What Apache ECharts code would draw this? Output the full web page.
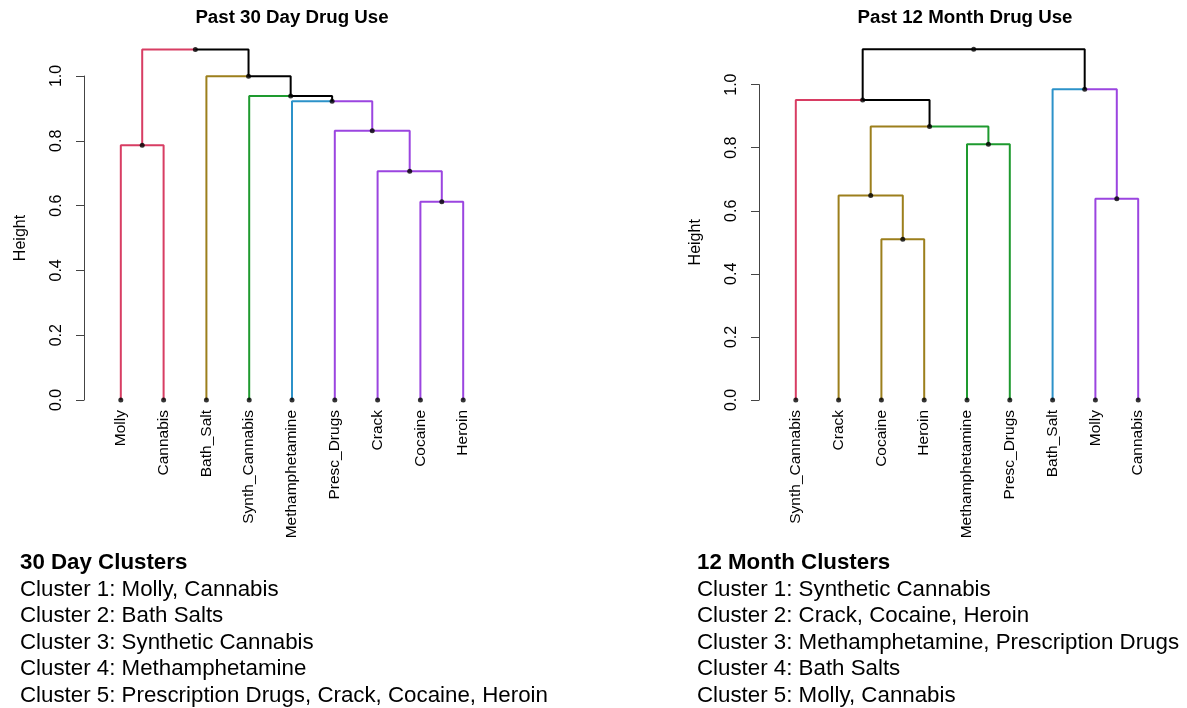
<!DOCTYPE html>
<html>
<head>
<meta charset="utf-8">
<script src="https://cdn.jsdelivr.net/npm/echarts@6/dist/echarts.min.js"></script>
<style>
  body { margin: 0; background: #fff; }
  #chart { width: 1187px; height: 708px; }
</style>
</head>
<body>
<div id="chart"></div>
<script>
// leaves in plotted order, cluster of each leaf, merges (negative = leaf, positive = earlier merge) and heights
let leaves30 = ['Molly','Cannabis','Bath_Salt','Synth_Cannabis','Methamphetamine','Presc_Drugs','Crack','Cocaine','Heroin'];
let clusters30 = [1,1,2,3,4,5,5,5,5];
let merges30 = [[-8,-9],[-7,1],[-1,-2],[-6,2],[-5,4],[-4,5],[-3,6],[3,7]];
let heights30 = [0.612,0.706,0.786,0.831,0.922,0.938,0.999,1.082];

let leaves12 = ['Synth_Cannabis','Crack','Cocaine','Heroin','Methamphetamine','Presc_Drugs','Bath_Salt','Molly','Cannabis'];
let clusters12 = [1,2,2,2,3,3,4,5,5];
let merges12 = [[-3,-4],[-2,1],[-8,-9],[-5,-6],[2,4],[-1,5],[-7,3],[6,7]];
let heights12 = [0.510,0.648,0.638,0.811,0.867,0.951,0.985,1.112];

let yTicks = [0, 0.2, 0.4, 0.6, 0.8, 1.0];

let titles = ['Past 30 Day Drug Use', 'Past 12 Month Drug Use'];
let notes30 = ['30 Day Clusters', 'Cluster 1: Molly, Cannabis', 'Cluster 2: Bath Salts',
  'Cluster 3: Synthetic Cannabis', 'Cluster 4: Methamphetamine',
  'Cluster 5: Prescription Drugs, Crack, Cocaine, Heroin'];
let notes12 = ['12 Month Clusters', 'Cluster 1: Synthetic Cannabis', 'Cluster 2: Crack, Cocaine, Heroin',
  'Cluster 3: Methamphetamine, Prescription Drugs', 'Cluster 4: Bath Salts', 'Cluster 5: Molly, Cannabis'];

let clusterColors = ['#D83D63', '#9C7F1C', '#1E9A2F', '#2C92C9', '#9B45E0'];
let FONT = '"Liberation Sans", Arial, sans-serif';

function treeSeries(leaves, clusters, merges, heights, gi) {
    let nodes = [];
    function node(ref) {
        if (ref < 0) return { x: -ref, h: 0, members: [-ref] };
        return nodes[ref - 1];
    }
    let series = [];
    let dots = leaves.map((l, i) => [i + 1, 0]);
    merges.forEach((m, k) => {
        let a = node(m[0]), b = node(m[1]);
        let p = { x: (a.x + b.x) / 2, h: heights[k], members: a.members.concat(b.members) };
        nodes.push(p);
        dots.push([p.x, p.h]);
        [a, b].forEach(c => {
            let cl = c.members.map(i => clusters[i - 1]);
            let same = cl.every(v => v === cl[0]);
            series.push({
                type: 'line',
                xAxisIndex: gi, yAxisIndex: gi,
                data: [[c.x, c.h], [c.x, p.h], [p.x, p.h]],
                symbol: 'none',
                clip: false,
                silent: true,
                lineStyle: { color: same ? clusterColors[cl[0] - 1] : '#000', width: 2 },
                z: 2
            });
        });
    });
    series.push({
        type: 'scatter',
        xAxisIndex: gi, yAxisIndex: gi,
        data: dots,
        symbolSize: 5,
        clip: false,
        itemStyle: { color: '#000' },
        z: 3
    });
    return series;
}

function xAxisFor(leaves, gi) {
    return {
        type: 'value', gridIndex: gi, min: 0.14, max: 9.86,
        axisLine: { show: false }, axisTick: { show: false }, splitLine: { show: false },
        axisLabel: {
            customValues: leaves.map((l, i) => i + 1),
            formatter: v => leaves[Math.round(v) - 1],
            rotate: 90, margin: 10, fontSize: 15.5, color: '#000', fontFamily: FONT
        }
    };
}

function yAxisFor(gi) {
    return {
        type: 'value', gridIndex: gi, min: 0, max: 1, interval: 0.2,
        name: 'Height', nameLocation: 'middle', nameRotate: 90, nameGap: 55,
        nameTextStyle: { fontSize: 16, color: '#000', fontFamily: FONT },
        axisLine: { show: true, lineStyle: { color: '#444', width: 1 } },
        axisTick: { show: true, length: 8, lineStyle: { color: '#444' },
                    customValues: yTicks },
        splitLine: { show: false },
        axisLabel: { rotate: 90, margin: 19, fontSize: 16, color: '#000', fontFamily: FONT,
                     customValues: yTicks, formatter: v => v.toFixed(1) }
    };
}

function textLines(lines, x) {
    return lines.map((t, i) => ({
        type: 'text', x: x, y: 563 + i * 26.5,
        style: { text: t, font: (i === 0 ? 'bold ' : '') + '22.3px ' + FONT,
                 textAlign: 'left', textVerticalAlign: 'middle', fill: '#000' }
    }));
}

let myChart = echarts.init(document.getElementById('chart'));

let option = {
    animation: false,
    backgroundColor: '#fff',
    grid: [
        { left: 84, top: 76, width: 416, height: 324 },
        { left: 759, top: 84.6, width: 416, height: 315.4 }
    ],
    xAxis: [xAxisFor(leaves30, 0), xAxisFor(leaves12, 1)],
    yAxis: [yAxisFor(0), yAxisFor(1)],
    series: treeSeries(leaves30, clusters30, merges30, heights30, 0)
        .concat(treeSeries(leaves12, clusters12, merges12, heights12, 1)),
    graphic: [
        { type: 'text', x: 292, y: 18,
          style: { text: titles[0], font: 'bold 18.7px ' + FONT, textAlign: 'center', textVerticalAlign: 'middle', fill: '#000' } },
        { type: 'text', x: 965, y: 18,
          style: { text: titles[1], font: 'bold 18.7px ' + FONT, textAlign: 'center', textVerticalAlign: 'middle', fill: '#000' } }
    ].concat(textLines(notes30, 20), textLines(notes12, 697))
};
myChart.setOption(option);
</script>
</body>
</html>
